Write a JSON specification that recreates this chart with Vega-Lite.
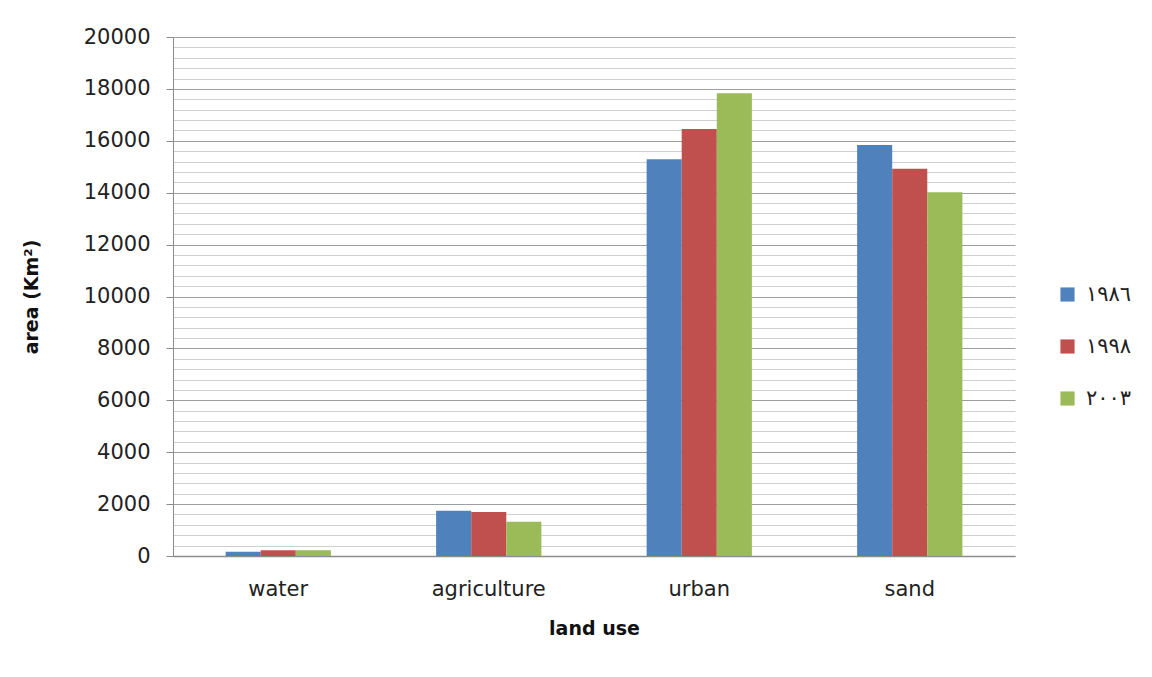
{
  "$schema": "https://vega.github.io/schema/vega-lite/v6.json",
  "autosize": {"type": "none"},
  "width": 842,
  "height": 519,
  "padding": {"left": 173, "top": 37, "right": 137, "bottom": 121},
  "background": "white",
  "config": {
    "view": {"stroke": null},
    "font": "DejaVu Sans"
  },
  "data": {
    "values": [
      {"land use": "water", "year": "١٩٨٦", "area": 160},
      {"land use": "water", "year": "١٩٩٨", "area": 220},
      {"land use": "water", "year": "٢٠٠٣", "area": 220},
      {"land use": "agriculture", "year": "١٩٨٦", "area": 1745},
      {"land use": "agriculture", "year": "١٩٩٨", "area": 1695},
      {"land use": "agriculture", "year": "٢٠٠٣", "area": 1320},
      {"land use": "urban", "year": "١٩٨٦", "area": 15290},
      {"land use": "urban", "year": "١٩٩٨", "area": 16455},
      {"land use": "urban", "year": "٢٠٠٣", "area": 17830},
      {"land use": "sand", "year": "١٩٨٦", "area": 15840},
      {"land use": "sand", "year": "١٩٩٨", "area": 14925},
      {"land use": "sand", "year": "٢٠٠٣", "area": 14015}
    ]
  },
  "mark": {"type": "bar"},
  "encoding": {
    "x": {
      "field": "land use",
      "type": "nominal",
      "sort": ["water", "agriculture", "urban", "sand"],
      "scale": {"paddingInner": 0.5, "paddingOuter": 0.25},
      "axis": {
        "labelAngle": 0,
        "labelFont": "DejaVu Sans",
        "labelFontSize": 21,
        "labelColor": "#222222",
        "labelPadding": 22,
        "ticks": false,
        "domainColor": "#8c8c8c",
        "domainWidth": 1.5,
        "title": "land use",
        "titleFont": "DejaVu Sans",
        "titleFontSize": 19,
        "titleFontWeight": "bold",
        "titleColor": "#111111",
        "titlePadding": 20
      }
    },
    "xOffset": {
      "field": "year",
      "type": "nominal",
      "sort": ["١٩٨٦", "١٩٩٨", "٢٠٠٣"]
    },
    "y": {
      "field": "area",
      "type": "quantitative",
      "scale": {"domain": [0, 20000], "nice": false},
      "axis": {
        "values": [0, 400, 800, 1200, 1600, 2000, 2400, 2800, 3200, 3600, 4000, 4400, 4800, 5200, 5600, 6000, 6400, 6800, 7200, 7600, 8000, 8400, 8800, 9200, 9600, 10000, 10400, 10800, 11200, 11600, 12000, 12400, 12800, 13200, 13600, 14000, 14400, 14800, 15200, 15600, 16000, 16400, 16800, 17200, 17600, 18000, 18400, 18800, 19200, 19600, 20000],
        "format": "d",
        "labelExpr": "datum.value % 2000 === 0 ? datum.label : ''",
        "labelFont": "DejaVu Sans",
        "labelFontSize": 21,
        "labelColor": "#222222",
        "labelPadding": 16,
        "tickSize": 7,
        "tickColor": "#8c8c8c",
        "tickOpacity": {"condition": {"test": "datum.value % 2000 === 0", "value": 1}, "value": 0},
        "grid": true,
        "gridColor": {"condition": {"test": "datum.value % 2000 === 0", "value": "#9e9e9e"}, "value": "#cfcfcf"},
        "gridWidth": 1.2,
        "domainColor": "#8c8c8c",
        "title": "area (Km²)",
        "titleFont": "DejaVu Sans",
        "titleFontSize": 19,
        "titleFontWeight": "bold",
        "titleColor": "#111111",
        "titlePadding": 42
      }
    },
    "color": {
      "field": "year",
      "type": "nominal",
      "scale": {
        "domain": ["١٩٨٦", "١٩٩٨", "٢٠٠٣"],
        "range": ["#4F81BD", "#C0504D", "#9BBB59"]
      },
      "legend": {
        "title": null,
        "orient": "none",
        "legendX": 884,
        "legendY": 247,
        "symbolType": "square",
        "symbolSize": 200,
        "symbolStrokeWidth": 0,
        "labelFont": "DejaVu Sans",
        "labelFontSize": 21,
        "labelColor": "#222222",
        "labelOffset": 8,
        "rowPadding": 30
      }
    }
  }
}
